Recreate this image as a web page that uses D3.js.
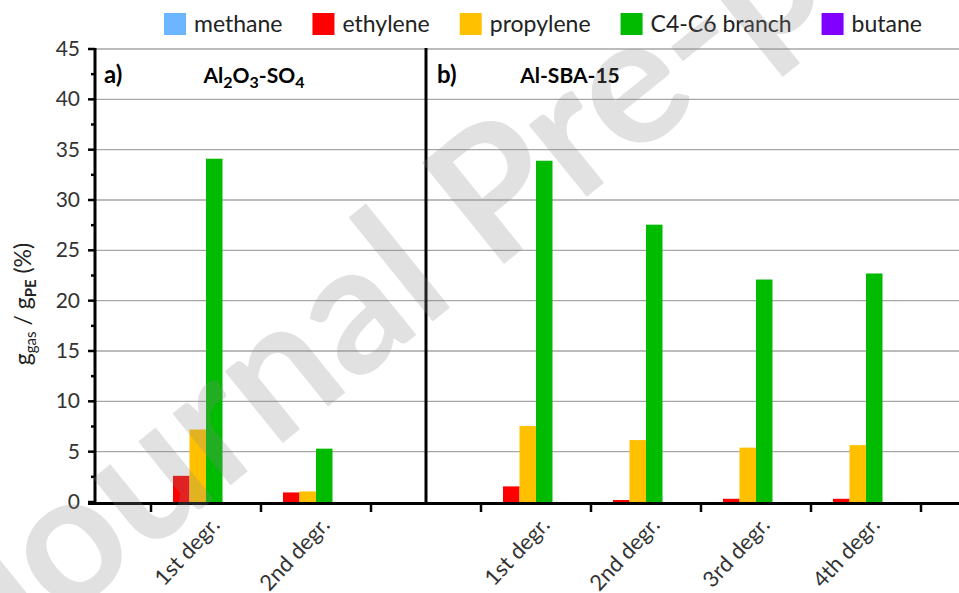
<!DOCTYPE html>
<html>
<head>
<meta charset="utf-8">
<script src="https://cdn.jsdelivr.net/npm/d3@7"></script>
<style>
  body { margin: 0; background: #fff; }
  svg { display: block; font-family: Lato, "Open Sans", sans-serif; }
</style>
</head>
<body>
<svg id="chart" width="959" height="593"></svg>
<script>
// category slots along the shared x axis ("" = empty slot / panel divider)
const slots = ["s0", "a1", "a2", "s3", "b1", "b2", "b3", "b4", "s8"];
const tickLabels = ["", "1st degr.", "2nd degr.", "", "1st degr.", "2nd degr.", "3rd degr.", "4th degr.", ""];
const dividerSlots = ["s3"];
const barSlots = ["a1", "a2", "b1", "b2", "b3", "b4"];

const seriesNames = ["methane", "ethylene", "propylene", "C4-C6 branch", "butane"];
const seriesColors = ["#6cb6ff", "#ff0000", "#ffc000", "#00bb00", "#8000ff"];

// values per barSlots, g_gas / g_PE (%)
const methane = [0, 0, 0, 0, 0, 0];
const ethylene = [2.6, 0.95, 1.55, 0.2, 0.32, 0.32];
const propylene = [7.2, 1.05, 7.55, 6.15, 5.4, 5.65];
const c4c6 = [34.1, 5.3, 33.9, 27.55, 22.1, 22.7];
const butane = [0, 0, 0, 0, 0, 0];
const seriesValues = [methane, ethylene, propylene, c4c6, butane];

const yTicks = [0, 5, 10, 15, 20, 25, 30, 35, 40, 45];

const svg = d3.select('#chart');
const plotL = 95, plotR = 959, plotT = 49, plotB = 502;

// scales
const x = d3.scaleBand().domain(slots).range([41, 41 + slots.length * 110]);
const xInner = d3.scaleBand().domain(seriesNames).range([0, x.bandwidth()])
    .paddingOuter(0.8333).align(0.2);
const y = d3.scaleLinear().domain([0, 45]).range([plotB, plotT]);

// gridlines
svg.append('g')
    .selectAll('line')
    .data(yTicks.filter(d => d > 0))
    .enter()
    .append('line')
    .attr('x1', plotL).attr('x2', plotR)
    .attr('y1', d => y(d)).attr('y2', d => y(d))
    .attr('stroke', '#a6a6a6')
    .attr('stroke-width', 1.4);

// bars
const bars = [];
barSlots.forEach((slot, i) => {
    seriesNames.forEach((s, k) => {
        bars.push({ slot, series: s, color: seriesColors[k], value: seriesValues[k][i] });
    });
});
svg.append('g')
    .selectAll('rect')
    .data(bars.filter(d => d.value > 0))
    .enter()
    .append('rect')
    .attr('x', d => x(d.slot) + xInner(d.series))
    .attr('width', xInner.bandwidth())
    .attr('y', d => y(d.value))
    .attr('height', d => y(0) - y(d.value))
    .attr('fill', d => d.color);

// y axis: major + minor ticks
const yAxis = svg.append('g').attr('transform', `translate(${plotL},0)`);
yAxis.selectAll('.major')
    .data(yTicks)
    .enter()
    .append('line')
    .attr('x1', -7).attr('x2', 0)
    .attr('y1', d => y(d)).attr('y2', d => y(d))
    .attr('stroke', '#000').attr('stroke-width', 2.5);
yAxis.selectAll('.minor')
    .data(yTicks.slice(0, -1).map(d => d + 2.5))
    .enter()
    .append('line')
    .attr('x1', -4).attr('x2', 0)
    .attr('y1', d => y(d)).attr('y2', d => y(d))
    .attr('stroke', '#000').attr('stroke-width', 2.5);
yAxis.selectAll('text')
    .data(yTicks)
    .enter()
    .append('text')
    .attr('x', -15)
    .attr('y', d => y(d) + 7)
    .attr('text-anchor', 'end')
    .attr('font-size', 21)
    .attr('fill', '#333')
    .text(d => d);

// axis lines and divider
svg.append('line')
    .attr('x1', plotL).attr('x2', plotL).attr('y1', plotT - 1).attr('y2', plotB + 2)
    .attr('stroke', '#000').attr('stroke-width', 3);
dividerSlots.forEach(s => {
    const cx = x(s) + x.bandwidth() / 2;
    svg.append('line')
        .attr('x1', cx).attr('x2', cx).attr('y1', plotT - 1).attr('y2', plotB + 2)
        .attr('stroke', '#000').attr('stroke-width', 3);
});
svg.append('line')
    .attr('x1', plotL - 7).attr('x2', plotR).attr('y1', plotB + 1.5).attr('y2', plotB + 1.5)
    .attr('stroke', '#000').attr('stroke-width', 3);

// x ticks at slot boundaries
svg.append('g')
    .selectAll('line')
    .data(slots.slice(1))
    .enter()
    .append('line')
    .attr('x1', d => x(d)).attr('x2', d => x(d))
    .attr('y1', plotB).attr('y2', plotB + 10)
    .attr('stroke', '#000').attr('stroke-width', 2.5);

// x labels rotated
svg.append('g')
    .selectAll('text')
    .data(slots.map((s, i) => ({ s, label: tickLabels[i] })).filter(d => d.label))
    .enter()
    .append('text')
    .attr('transform', d => `translate(${x(d.s) + x.bandwidth() / 2 + 15},526) rotate(-47)`)
    .attr('text-anchor', 'end')
    .attr('font-size', 22)
    .attr('fill', '#333')
    .text(d => d.label);

// y label
const yl = svg.append('text')
    .attr('transform', 'translate(31,304) rotate(-90)')
    .attr('text-anchor', 'middle')
    .attr('font-size', 23)
    .attr('fill', '#222');
yl.append('tspan').text('g');
yl.append('tspan').attr('dy', 5).attr('font-size', 15).text('gas');
yl.append('tspan').attr('dy', -5).text(' / g');
yl.append('tspan').attr('dy', 5).attr('font-size', 15).attr('font-weight', 'bold').text('PE');
yl.append('tspan').attr('dy', -5).text(' (%)');

// panel titles
function panelTitle(px, label, parts, cx) {
    svg.append('text').attr('x', px).attr('y', 83)
        .attr('font-size', 24).attr('font-weight', 'bold').text(label);
    const t = svg.append('text').attr('x', cx).attr('y', 83)
        .attr('text-anchor', 'middle').attr('font-size', 21).attr('font-weight', 'bold');
    parts.forEach(p => {
        if (p.sub) t.append('tspan').attr('dy', 5).attr('font-size', 16).text(p.sub);
        else t.append('tspan').attr('dy', p.back ? -5 : 0).text(p.t);
    });
}
panelTitle(104, 'a)', [{ t: 'Al' }, { sub: '2' }, { t: 'O', back: true }, { sub: '3' }, { t: '-SO', back: true }, { sub: '4' }], 254);
panelTitle(437, 'b)', [{ t: 'Al-SBA-15' }], 570);

// legend
const legend = svg.append('g');
let lx = 164;
seriesNames.forEach((s, k) => {
    legend.append('rect').attr('x', lx).attr('y', 13).attr('width', 22).attr('height', 22)
        .attr('fill', seriesColors[k]);
    const t = legend.append('text').attr('x', lx + 30).attr('y', 32)
        .attr('font-size', 23).attr('fill', '#222').text(s);
    lx += 30 + t.node().getComputedTextLength() + 30;
});

// watermark
svg.append('text')
    .attr('transform', 'translate(5,668) rotate(-39)')
    .attr('font-size', 180)
    .attr('font-weight', 'bold')
    .attr('fill', '#888')
    .attr('fill-opacity', 0.25)
    .text('Journal Pre-proof');
</script>
</body>
</html>
